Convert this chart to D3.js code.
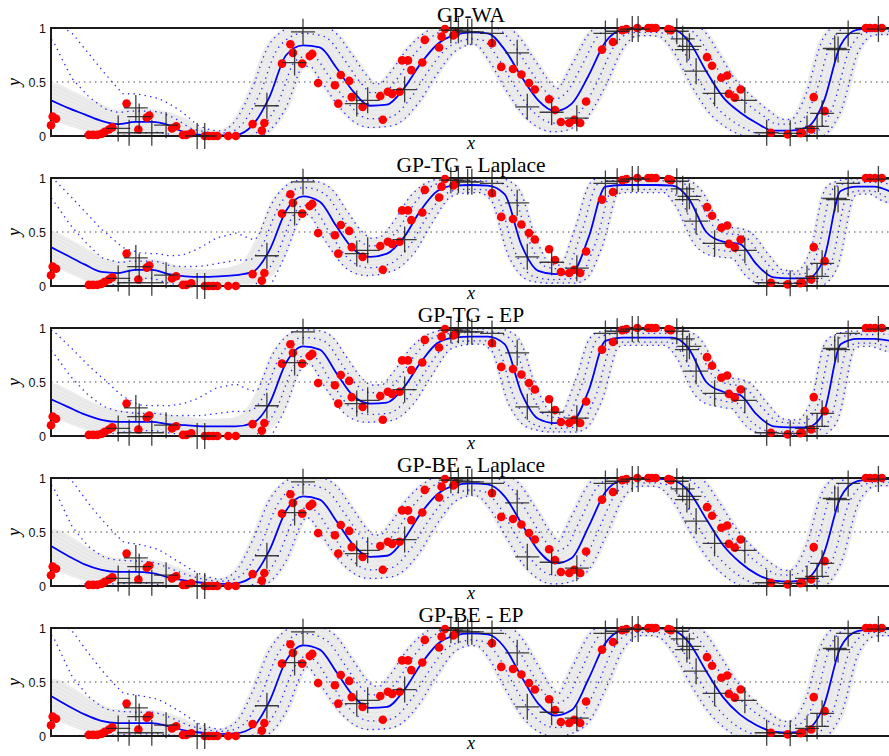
<!DOCTYPE html>
<html lang="en">
<head>
<meta charset="UTF-8">
<title>GP warping comparison</title>
<script src="https://cdn.jsdelivr.net/npm/d3@7"></script>
<style>
    body { margin: 0; background: #fff; }
    .tick-label { font-family: "Liberation Sans", Arial, sans-serif; font-size: 12.5px; fill: #111; }
    .title { font-family: "Liberation Serif", "Times New Roman", serif; font-size: 21.5px; fill: #000; }
    .axis-var { font-family: "Liberation Serif", "Times New Roman", serif; font-style: italic; font-size: 18px; fill: #000; }
</style>
</head>
<body>
<div id="chart"></div>
<script>
// grid of x positions where the predictive curves were read
const xs = [0,0.2,0.4,0.6,0.8,1,1.2,1.4,1.6,1.8,2,2.2,2.4,2.6,2.8,3,3.2,3.4,3.6,3.8,4,4.2,4.4,4.6,4.8,5,
            5.2,5.4,5.6,5.8,6,6.2,6.4,6.6,6.8,7,7.2,7.4,7.6,7.8,8,8.2,8.4,8.6,8.8,9,9.2,9.4,9.6,9.8,10];

// predictive mean of each model
const meanWA  = [0.33,0.26,0.20,0.14,0.11,0.13,0.13,0.10,0.03,0.01,0.005,0.01,0.10,0.36,0.75,0.84,0.82,0.63,0.41,0.28,0.29,0.44,0.67,0.85,0.935,0.96,
                 0.95,0.80,0.55,0.33,0.23,0.30,0.56,0.87,0.985,1.0,1.0,0.99,0.87,0.60,0.36,0.22,0.12,0.05,0.05,0.08,0.32,0.84,0.985,1.0,1.0];
const meanTGL = [0.36,0.28,0.20,0.13,0.12,0.15,0.15,0.11,0.09,0.085,0.09,0.10,0.13,0.33,0.70,0.83,0.78,0.55,0.34,0.27,0.30,0.45,0.70,0.88,0.93,0.935,
                 0.93,0.85,0.38,0.14,0.11,0.12,0.45,0.92,0.935,0.935,0.935,0.93,0.80,0.50,0.41,0.39,0.20,0.08,0.07,0.07,0.25,0.88,0.92,0.92,0.87];
const meanTGE = [0.34,0.27,0.20,0.15,0.13,0.13,0.13,0.11,0.10,0.09,0.09,0.09,0.12,0.30,0.68,0.83,0.80,0.58,0.37,0.30,0.31,0.45,0.68,0.86,0.91,0.92,
                 0.92,0.85,0.40,0.16,0.12,0.13,0.42,0.88,0.91,0.91,0.91,0.91,0.80,0.50,0.41,0.38,0.20,0.09,0.08,0.08,0.22,0.85,0.90,0.90,0.88];
const meanBEL = [0.37,0.28,0.20,0.15,0.13,0.13,0.12,0.08,0.05,0.03,0.02,0.025,0.09,0.33,0.70,0.83,0.80,0.60,0.38,0.27,0.28,0.43,0.67,0.85,0.93,0.95,
                 0.94,0.83,0.58,0.33,0.21,0.26,0.55,0.87,0.98,0.995,0.995,0.98,0.87,0.62,0.38,0.22,0.11,0.05,0.04,0.07,0.30,0.82,0.97,0.99,0.99];
const meanBEE = [0.37,0.28,0.20,0.14,0.12,0.12,0.12,0.09,0.05,0.03,0.02,0.025,0.08,0.32,0.70,0.84,0.80,0.59,0.37,0.26,0.27,0.42,0.66,0.85,0.93,0.95,
                 0.94,0.82,0.55,0.30,0.19,0.24,0.53,0.86,0.98,1.0,1.0,0.98,0.86,0.60,0.36,0.20,0.10,0.04,0.03,0.06,0.28,0.82,0.97,0.99,0.99];

// half widths (in y units) of outer / inner quantile curves and of the density band
const outerWA = [0.72,0.71,0.57,0.43,0.28,0.26,0.23,0.17,0.09,0.05,0.04,0.05,0.10,0.20,0.20,0.19,0.20,0.21,0.21,0.20,0.20,0.21,0.19,0.14,0.12,0.11,
                 0.12,0.18,0.21,0.21,0.19,0.20,0.21,0.15,0.08,0.07,0.07,0.09,0.16,0.21,0.21,0.19,0.15,0.11,0.10,0.12,0.20,0.16,0.08,0.06,0.06];
const innerWA = [0.56,0.30,0.18,0.12,0.11,0.10,0.10,0.08,0.05,0.03,0.02,0.03,0.06,0.11,0.11,0.11,0.11,0.12,0.12,0.12,0.12,0.12,0.11,0.08,0.07,0.06,
                 0.07,0.10,0.12,0.12,0.11,0.12,0.12,0.08,0.04,0.04,0.04,0.05,0.09,0.12,0.12,0.11,0.09,0.06,0.06,0.07,0.12,0.09,0.04,0.03,0.03];
const bandWA  = [0.16,0.15,0.14,0.13,0.13,0.13,0.12,0.10,0.07,0.05,0.04,0.06,0.11,0.21,0.21,0.20,0.21,0.22,0.22,0.21,0.21,0.22,0.20,0.15,0.13,0.12,
                 0.13,0.19,0.22,0.22,0.20,0.21,0.22,0.16,0.09,0.08,0.08,0.10,0.17,0.22,0.22,0.20,0.16,0.12,0.11,0.13,0.21,0.17,0.09,0.07,0.07];
const outerTG = [0.64,0.56,0.47,0.38,0.25,0.16,0.15,0.17,0.20,0.27,0.36,0.39,0.30,0.20,0.17,0.15,0.17,0.20,0.20,0.17,0.17,0.20,0.18,0.10,0.08,0.07,
                 0.07,0.12,0.20,0.10,0.08,0.09,0.20,0.09,0.07,0.07,0.07,0.07,0.14,0.18,0.14,0.14,0.15,0.08,0.07,0.07,0.18,0.09,0.07,0.07,0.10];
const innerTG = [0.45,0.30,0.20,0.13,0.10,0.08,0.08,0.08,0.09,0.10,0.12,0.14,0.12,0.10,0.09,0.08,0.09,0.11,0.11,0.10,0.10,0.11,0.10,0.06,0.04,0.04,
                 0.04,0.07,0.11,0.06,0.05,0.05,0.11,0.05,0.04,0.04,0.04,0.04,0.08,0.10,0.08,0.08,0.09,0.05,0.04,0.04,0.10,0.05,0.04,0.04,0.06];
const bandTG  = [0.15,0.14,0.13,0.12,0.11,0.10,0.10,0.09,0.08,0.07,0.07,0.08,0.11,0.18,0.18,0.16,0.18,0.20,0.20,0.18,0.18,0.20,0.18,0.11,0.08,0.07,
                 0.07,0.13,0.20,0.11,0.09,0.10,0.20,0.09,0.07,0.07,0.07,0.07,0.15,0.18,0.15,0.15,0.16,0.09,0.07,0.07,0.18,0.09,0.07,0.07,0.11];

// test points (red) and training points (crosses), same in every panel
const testX = [0.00,0.02,0.06,0.45,0.50,0.55,0.60,0.64,0.69,0.73,0.90,1.04,1.14,1.17,1.44,1.49,1.57,1.61,1.67,1.83,
               1.88,1.93,1.98,2.11,2.20,2.40,2.51,2.54,2.75,2.85,2.88,2.99,3.08,3.11,3.18,3.38,3.42,3.45,3.55,3.58,
               3.71,3.92,3.95,4.01,4.06,4.15,4.18,4.25,4.29,4.42,4.45,4.62,4.65,4.69,4.79,4.82,5.25,5.36,5.50,5.60,
               5.69,5.76,5.93,6.00,6.07,6.17,6.23,6.30,6.37,6.56,6.69,6.80,6.85,6.98,7.11,7.15,7.20,7.35,7.38,7.81,
               7.87,7.98,8.05,8.07,8.14,8.21,8.57,8.77,8.92,8.94,9.05,9.08,9.21,9.70,9.75,9.81,9.89];
const testY = [0.10,0.18,0.16,0.01,0.01,0.01,0.02,0.04,0.06,0.08,0.30,0.06,0.17,0.19,0.07,0.09,0.01,0.01,0.025,0,
               0,0,0,0,0,0.11,0.05,0.12,0.67,0.85,0.77,0.67,0.74,0.76,0.49,0.47,0.30,0.565,0.51,0.36,
               0.27,0.37,0.15,0.41,0.39,0.41,0.70,0.70,0.61,0.68,0.89,0.82,0.92,0.99,0.93,0.95,0.86,0.64,0.62,0.57,
               0.49,0.43,0.34,0.24,0.13,0.12,0.15,0.12,0.32,0.80,0.87,0.98,0.99,1.0,1.0,1.0,1.0,0.99,0.98,0.73,
               0.65,0.54,0.56,0.39,0.355,0.43,0.03,0.015,0.025,0.03,0.06,0.36,0.23,1.0,1.0,1.0,1.0];
const trainX = [0.80,0.93,1.01,1.05,1.20,1.37,1.74,1.83,2.57,2.90,3.00,3.64,3.77,4.21,4.76,4.85,4.96,5.01,5.25,5.55,
                5.67,5.96,6.26,6.60,6.74,6.92,6.99,7.45,7.52,7.57,7.60,7.68,7.90,8.26,8.52,8.80,9.00,9.12,9.18,9.33,
                9.37,9.49,9.85];
const trainY = [0.07,0.03,0.26,0.18,0.03,0.10,0.0,0.0,0.28,0.68,0.965,0.30,0.33,0.43,0.98,0.98,0.965,0.965,0.95,0.77,
                0.27,0.22,0.165,0.95,0.97,0.99,0.99,0.97,0.90,0.80,0.83,0.60,0.395,0.33,0.03,0.025,0.07,0.09,0.21,0.81,
                0.80,0.95,0.99];

const titles = ["GP-WA", "GP-TG - Laplace", "GP-TG - EP", "GP-BE - Laplace", "GP-BE - EP"];
const yTicks = [0, 0.5, 1];
const yTickLabels = ["0", "0.5", "1"];

const panels = [
    { title: titles[0], mean: meanWA,  outer: outerWA, inner: innerWA, band: bandWA, kind: "WA" },
    { title: titles[1], mean: meanTGL, outer: outerTG, inner: innerTG, band: bandTG, kind: "TG" },
    { title: titles[2], mean: meanTGE, outer: outerTG, inner: innerTG, band: bandTG, kind: "TG" },
    { title: titles[3], mean: meanBEL, outer: outerWA, inner: innerWA, band: bandWA, kind: "WA" },
    { title: titles[4], mean: meanBEE, outer: outerWA, inner: innerWA, band: bandWA, kind: "WA" }
];

// horizontal reach (px) of each envelope
const reach = { WA: { band: 22, outer: 19, inner: 10 }, TG: { band: 17, outer: 15, inner: 8 } };

const width = 889, height = 756;
const left = 51, right = 891, plotH = 108, gap = 150, firstTop = 28;

const svg = d3.select("#chart").append("svg")
    .attr("width", width)
    .attr("height", height);

const x = d3.scaleLinear().domain([0, 10]).range([left, right]);

panels.forEach((p, i) => {
    const top = firstTop + i * gap;
    const y = d3.scaleLinear().domain([0, 1]).range([top + plotH, top]);
    const r = reach[p.kind];

    svg.append("clipPath").attr("id", "clip" + i)
       .append("rect")
       .attr("x", left).attr("y", top)
       .attr("width", right - left).attr("height", plotH);

    const clipG = svg.append("g").attr("clip-path", `url(#clip${i})`);
    const bandG = clipG.append("g");
    const gridG = clipG.append("g");
    const axisG = svg.append("g");
    const dotG = clipG.append("g");
    const meanG = clipG.append("g");

    const meanLine = d3.line()
        .x((d, k) => x(xs[k]))
        .y(d => y(d))
        .curve(d3.curveMonotoneX);

    const meanPath = meanG.append("path")
        .attr("d", meanLine(p.mean))
        .attr("fill", "none")
        .attr("stroke", "#0000ff")
        .attr("stroke-width", 1.8);

    // sample mean curve in pixel space
    const node = meanPath.node();
    const len = node.getTotalLength();
    const samples = [];
    for (let s = 0; s <= len; s += 1) samples.push(node.getPointAtLength(s));

    // envelope of ellipses centred on the mean curve
    function envelope(spread, frac, rx, dir) {
        const sc = d3.scaleLinear().domain(xs).range(spread);
        const n = right - left;
        const out = new Array(n + 1).fill(dir < 0 ? Infinity : -Infinity);
        const rr = Math.max(1, rx * frac);
        samples.forEach(pt => {
            const ry = (y(0) - y(sc(x.invert(pt.x)))) * frac;
            for (let c = Math.ceil(pt.x - rr); c <= Math.floor(pt.x + rr); c++) {
                const idx = c - left;
                if (idx < 0 || idx > n) continue;
                const dx = (c - pt.x) / rr;
                const v = pt.y + dir * ry * Math.sqrt(Math.max(0, 1 - dx * dx));
                if (dir < 0 ? v < out[idx] : v > out[idx]) out[idx] = v;
            }
        });
        return out.map((v, idx) => {
            if (!isFinite(v)) v = dir < 0 ? top : top + plotH;
            return [left + idx, Math.max(top, Math.min(top + plotH, v))];
        });
    }

    // grey density band with contour lines
    [1, 0.8, 0.6, 0.4, 0.2].forEach((f, j) => {
        const up = envelope(p.band, f, r.band, -1);
        const lo = envelope(p.band, f, r.band, 1);
        const pts = up.map((d, k) => [d[0], d[1], lo[k][1]]);
        bandG.append("path")
            .attr("d", d3.area().x(d => d[0]).y0(d => d[2]).y1(d => d[1])(pts))
            .attr("fill", j === 0 ? "#ececec" : "none")
            .attr("stroke", "#dcdcdc")
            .attr("stroke-width", j === 0 ? 0 : 0.5);
    });

    // dotted quantile curves
    const pixLine = d3.line().x(d => d[0]).y(d => d[1]);
    ["outer", "inner"].forEach(key => {
        [-1, 1].forEach(dir => {
            dotG.append("path")
                .attr("d", pixLine(envelope(p[key], 1, r[key], dir)))
                .attr("fill", "none")
                .attr("stroke", "#2a2aff")
                .attr("stroke-width", 1.3)
                .attr("stroke-dasharray", "1.4,4.2");
        });
    });

    // 0.5 grid line
    gridG.append("line")
        .attr("x1", left).attr("x2", right)
        .attr("y1", y(0.5)).attr("y2", y(0.5))
        .attr("stroke", "#8a8a8a")
        .attr("stroke-width", 1.3)
        .attr("stroke-dasharray", "1.5,4");

    // frame
    [0, 1].forEach(v => {
        axisG.append("line")
            .attr("x1", left - 1).attr("x2", right)
            .attr("y1", y(v)).attr("y2", y(v))
            .attr("stroke", "#1a1a1a")
            .attr("stroke-width", 2);
    });
    axisG.append("line")
        .attr("x1", left).attr("x2", left)
        .attr("y1", y(0)).attr("y2", y(1))
        .attr("stroke", "#1a1a1a")
        .attr("stroke-width", 2);

    axisG.selectAll("text.tick-label")
        .data(yTicks)
        .enter()
        .append("text")
        .attr("class", "tick-label")
        .attr("x", left - 5)
        .attr("y", d => y(d) + 4.5)
        .attr("text-anchor", "end")
        .text((d, k) => yTickLabels[k]);

    // red test points
    svg.append("g")
        .selectAll("circle")
        .data(testX)
        .enter()
        .append("circle")
        .attr("cx", d => x(d))
        .attr("cy", (d, k) => y(testY[k]))
        .attr("r", 4.3)
        .attr("fill", "#ff0000");

    // training crosses
    const cross = svg.append("g")
        .attr("stroke", "#1e1e1e")
        .attr("stroke-opacity", 0.85)
        .attr("stroke-width", 1.3);
    trainX.forEach((d, k) => {
        const cx = x(d), cy = y(trainY[k]);
        cross.append("path").attr("d", `M${cx - 12},${cy}H${cx + 12}M${cx},${cy - 13}V${cy + 13}`);
    });

    // labels
    svg.append("text")
        .attr("class", "title")
        .attr("x", (left + right) / 2)
        .attr("y", top - 6)
        .attr("text-anchor", "middle")
        .text(p.title);

    svg.append("text")
        .attr("class", "axis-var")
        .attr("x", (left + right) / 2)
        .attr("y", top + plotH + 12.5)
        .attr("text-anchor", "middle")
        .text("x");

    svg.append("text")
        .attr("class", "axis-var")
        .attr("transform", `translate(20,${top + plotH / 2}) rotate(-90)`)
        .attr("text-anchor", "middle")
        .text("y");
});
</script>
</body>
</html>
